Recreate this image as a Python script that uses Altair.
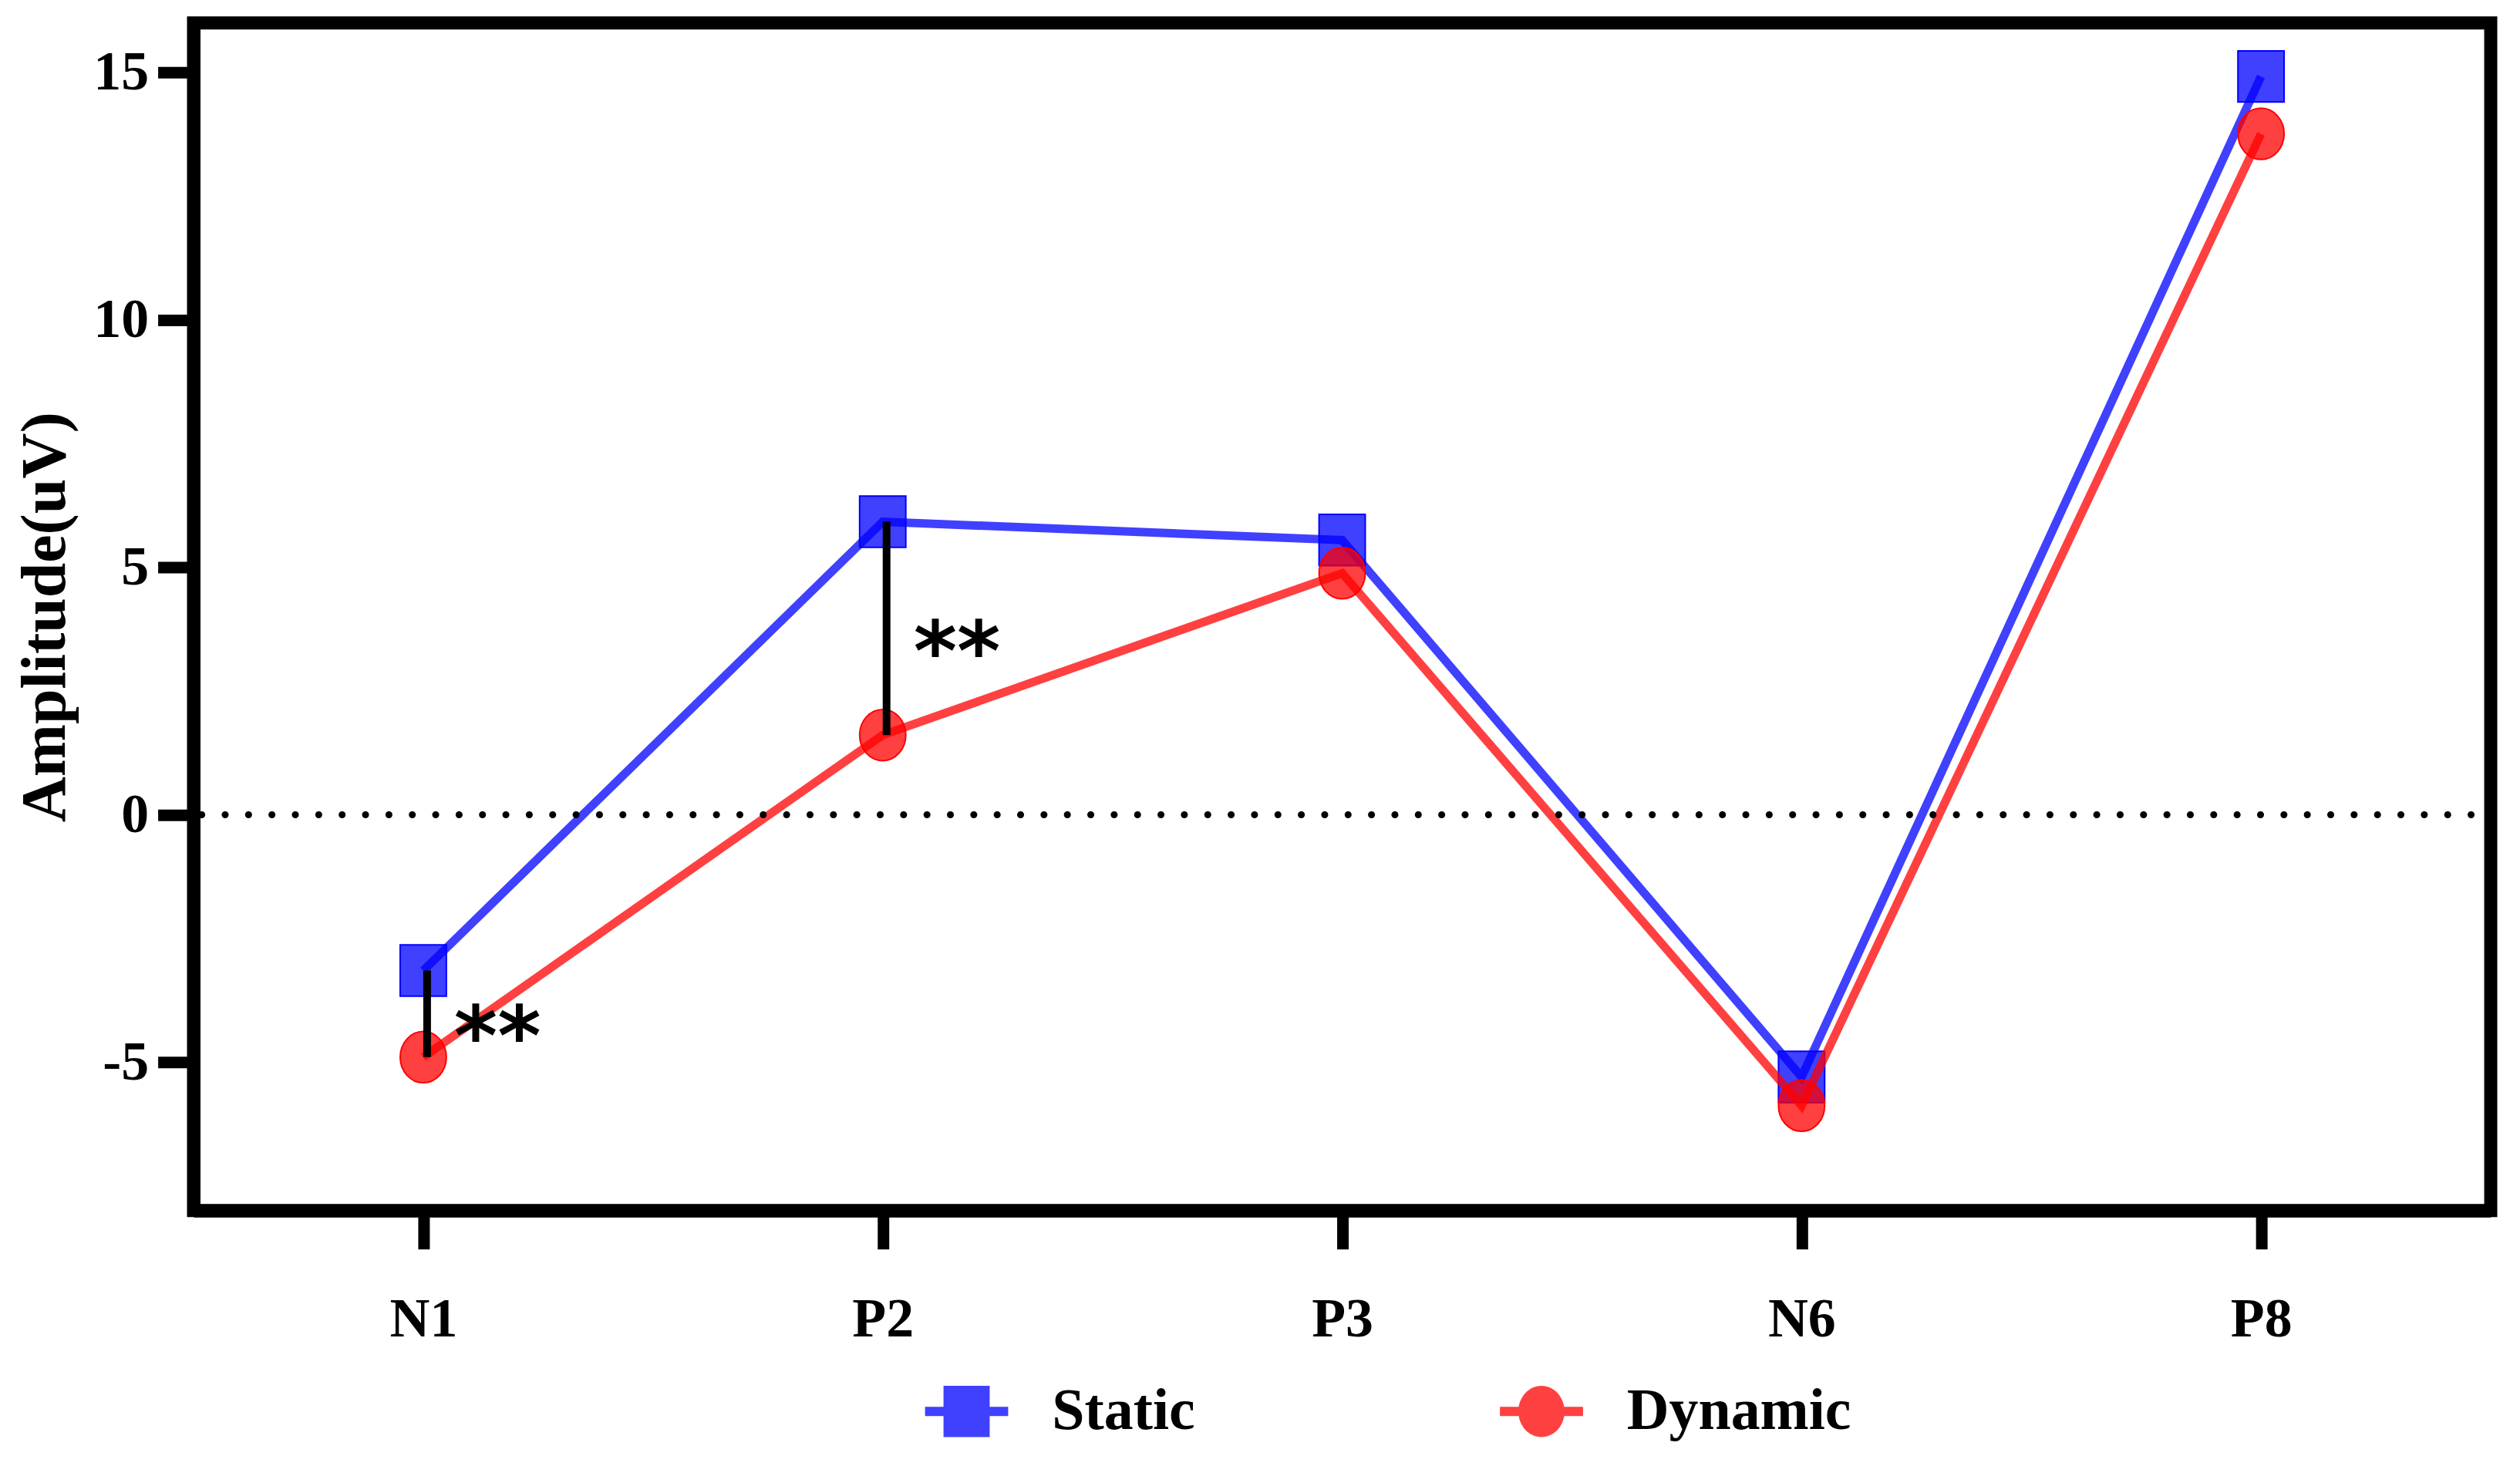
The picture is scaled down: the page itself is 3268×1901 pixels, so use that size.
import altair as alt
import pandas as pd

# ---- data ----
categories = ["N1", "P2", "P3", "N6", "P8"]
static_vals = [-3.15, 5.92, 5.55, -5.30, 14.92]
dynamic_vals = [-4.90, 1.61, 4.88, -5.88, 13.76]
series_names = ["Static", "Dynamic"]
series_colors = ["#0000ff", "#ff0000"]
y_ticks = [-5, 0, 5, 10, 15]
sig_categories = ["N1", "P2"]
sig_labels = ["**", "**"]
sig_label_y = [-4.13, 3.65]

rows = []
for i, c in enumerate(categories):
    rows.append({"cat": c, "series": "Static", "value": static_vals[i]})
    rows.append({"cat": c, "series": "Dynamic", "value": dynamic_vals[i]})
df = pd.DataFrame(rows)

sig_df = pd.DataFrame({
    "cat": sig_categories,
    "top": [static_vals[categories.index(c)] for c in sig_categories],
    "bottom": [dynamic_vals[categories.index(c)] for c in sig_categories],
    "label": sig_labels,
    "label_y": sig_label_y,
})
zero_df = pd.DataFrame({"z": [0]})

# ---- styling ----
SERIF = "Liberation Serif"
SQUARE = "M-1,-1.11L1,-1.11L1,1.11L-1,1.11Z"
ELLIPSE = "M-1,0A1,1.11 0 1,1 1,0A1,1.11 0 1,1 -1,0Z"
BAR = "M-1.8,-0.2L1.8,-0.2L1.8,0.2L-1.8,0.2Z"

W, H = 2985, 1543

x_scale = alt.Scale(type="point", domain=categories, padding=0.5)
y_scale = alt.Scale(domain=[-8, 16], nice=False, zero=False)
color_scale = alt.Scale(domain=series_names, range=series_colors)
shape_scale = alt.Scale(domain=series_names, range=[SQUARE + BAR, ELLIPSE + BAR])

x_axis = alt.Axis(
    title=None, domain=True, domainColor="black", domainWidth=17,
    ticks=True, tickColor="black", tickWidth=15, tickSize=50,
    labels=True, labelFont=SERIF, labelFontWeight="bold", labelFontSize=72,
    labelColor="black", labelPadding=56, grid=False, labelAngle=0,
)
y_axis = alt.Axis(
    title="Amplitude(uV)", values=y_ticks, domain=True, domainColor="black",
    domainWidth=17, ticks=True, tickColor="black", tickWidth=15, tickSize=46.5,
    labelFont=SERIF, labelFontWeight="bold", labelFontSize=72, labelColor="black",
    labelPadding=12, grid=False,
    labelExpr="replace(datum.label, '\u2212', '-')",
    titleFont=SERIF, titleFontWeight="bold", titleFontSize=82, titleColor="black",
    titleAngle=270, titleAlign="center", titleBaseline="alphabetic",
    titleX=-168, titleY=H / 2,
)

leg = alt.Legend(
    title=None, orient="none", legendX=966.5, legendY=1766, direction="horizontal",
    columns=2, symbolSize=3600, symbolOpacity=0.75, symbolStrokeWidth=0,
    labelFont=SERIF, labelFontWeight="bold", labelFontSize=76, labelColor="black",
    labelOffset=73, columnPadding=396, padding=0, labelLimit=1000,
)


def X(field="cat"):
    return alt.X(f"{field}:N", scale=x_scale, axis=x_axis, sort=categories)


def Y(field="value"):
    return alt.Y(f"{field}:Q", scale=y_scale, axis=y_axis)


def C():
    return alt.Color("series:N", scale=color_scale, legend=leg)


layers = []
for name, shape in zip(series_names, [SQUARE, ELLIPSE]):
    col = series_colors[series_names.index(name)]
    sub = alt.Chart(df).transform_filter(alt.datum.series == name)
    layers.append(
        sub.mark_line(strokeWidth=11, opacity=0.75, strokeJoin="miter").encode(
            x=X(), y=Y(), color=C()
        )
    )
    layers.append(
        sub.mark_point(
            filled=True, shape=shape, size=3600, opacity=1, fillOpacity=0.75,
            stroke=col, strokeWidth=2, strokeOpacity=1,
        ).encode(x=X(), y=Y(), color=C())
    )

zero_line = alt.Chart(zero_df).mark_rule(
    color="black", strokeWidth=9, strokeCap="round", strokeDash=[0.1, 30.3],
    strokeDashOffset=4.9,
).encode(y=alt.Y("z:Q", scale=y_scale, axis=y_axis))

sig_rule = alt.Chart(sig_df).mark_rule(color="black", strokeWidth=10, xOffset=5).encode(
    x=X(), y=Y("top"), y2="bottom:Q"
)
sig_text = alt.Chart(sig_df).mark_text(
    font="DejaVu Sans", fontWeight="bold", fontSize=108, color="black",
    align="left", baseline="alphabetic", dx=40, dy=60,
).encode(x=X(), y=Y("label_y"), text="label:N")

# legend-only layer: its own marks sit outside the clipped plot area
legend_layer = alt.Chart(df).mark_point(filled=True, clip=True).encode(
    x=X(),
    y=alt.Y(datum=-1000, scale=y_scale, axis=y_axis),
    color=C(),
    shape=alt.Shape("series:N", scale=shape_scale, legend=leg),
)

chart = alt.layer(*layers, zero_line, sig_rule, sig_text, legend_layer).properties(
    width=W, height=H,
    autosize=alt.AutoSizeParams(type="none"),
    padding={"left": 243.5, "top": 20, "right": 30, "bottom": 320},
    background="white",
).configure_view(stroke="black", strokeWidth=17)

chart.save("out.html", embed_options={"renderer": "svg", "actions": False})
